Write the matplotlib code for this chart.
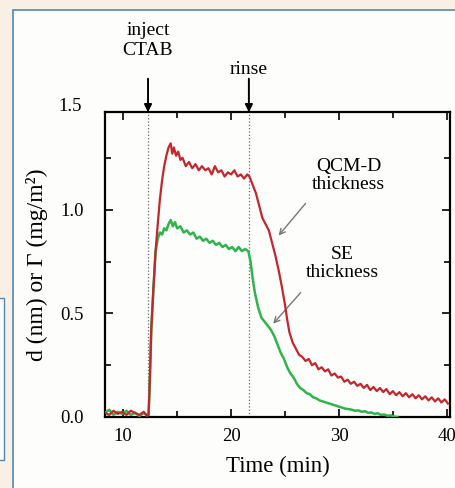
import matplotlib
matplotlib.use("Agg")
import matplotlib.pyplot as plt
from matplotlib.patches import Rectangle
from matplotlib.ticker import MultipleLocator

plt.rcParams['font.family'] = ['Liberation Serif', 'DejaVu Serif']

# QCM-D thickness (red)
qcm_t = [8.3, 8.7, 9.1, 9.5, 9.9, 10.3, 10.7, 11.1, 11.5, 11.9, 12.2, 12.35,
         12.45, 12.6, 12.8, 13.0, 13.2, 13.4, 13.6, 13.8, 14.0, 14.2, 14.4,
         14.55, 14.7, 14.9, 15.1, 15.3, 15.5, 15.8, 16.1, 16.4, 16.7, 17.0,
         17.3, 17.6, 17.9, 18.2, 18.5, 18.8, 19.1, 19.4, 19.7, 20.0, 20.3,
         20.6, 20.9, 21.2, 21.5, 21.7, 22.0, 22.3, 22.6, 22.9, 23.2, 23.5,
         23.8, 24.1, 24.4, 24.7, 25.0, 25.2, 25.4, 25.7, 26.0, 26.3, 26.6,
         26.9, 27.2, 27.5, 27.8, 28.1, 28.4, 28.7, 29.0, 29.3, 29.6, 29.9,
         30.2, 30.5, 30.8, 31.1, 31.4, 31.7, 32.0, 32.3, 32.6, 32.9, 33.2,
         33.5, 33.8, 34.1, 34.4, 34.7, 35.0, 35.3, 35.6, 35.9, 36.2, 36.5,
         36.8, 37.1, 37.4, 37.7, 38.0, 38.3, 38.6, 38.9, 39.2, 39.5, 39.8, 40.1]
qcm_d = [0.02, 0.01, 0.03, 0.015, 0.025, 0.01, 0.03, 0.02, 0.01, 0.025, 0.005, 0.01,
         0.15, 0.42, 0.62, 0.80, 0.93, 1.05, 1.14, 1.21, 1.26, 1.30, 1.32,
         1.27, 1.30, 1.26, 1.28, 1.24, 1.25, 1.21, 1.23, 1.20, 1.22, 1.19,
         1.21, 1.19, 1.20, 1.17, 1.21, 1.18, 1.19, 1.16, 1.18, 1.17, 1.19,
         1.16, 1.17, 1.15, 1.17, 1.16, 1.12, 1.08, 1.02, 0.96, 0.93, 0.90,
         0.84, 0.78, 0.71, 0.63, 0.54, 0.47, 0.41, 0.36, 0.33, 0.30, 0.29,
         0.27, 0.28, 0.25, 0.26, 0.23, 0.24, 0.22, 0.23, 0.20, 0.21, 0.19,
         0.195, 0.17, 0.18, 0.16, 0.17, 0.15, 0.16, 0.14, 0.155, 0.13, 0.145,
         0.125, 0.14, 0.12, 0.135, 0.11, 0.125, 0.105, 0.12, 0.10, 0.115, 0.095,
         0.11, 0.09, 0.105, 0.085, 0.10, 0.08, 0.095, 0.075, 0.09, 0.07, 0.085, 0.065]

# SE thickness (green)
se_t = [8.3, 8.7, 9.1, 9.5, 9.9, 10.3, 10.7, 11.1, 11.5, 11.9, 12.2, 12.35,
        12.45, 12.6, 12.8, 13.0, 13.2, 13.4, 13.6, 13.8, 14.0, 14.2, 14.4,
        14.6, 14.8, 15.0, 15.3, 15.6, 15.9, 16.2, 16.5, 16.8, 17.1, 17.4,
        17.7, 18.0, 18.3, 18.6, 18.9, 19.2, 19.5, 19.8, 20.1, 20.4, 20.7,
        21.0, 21.3, 21.6, 21.8, 22.0, 22.2, 22.5, 22.8, 23.1, 23.4, 23.7,
        24.0, 24.3, 24.6, 24.9, 25.2, 25.5, 25.8, 26.1, 26.4, 26.7, 27.0,
        27.3, 27.6, 27.9, 28.2, 28.5, 28.8, 29.1, 29.4, 29.7, 30.0, 30.3,
        30.6, 30.9, 31.2, 31.5, 31.8, 32.1, 32.4, 32.7, 33.0, 33.3, 33.6,
        33.9, 34.2, 34.5, 34.8, 35.1, 35.4]
se_d = [0.02, 0.035, 0.01, 0.025, 0.015, 0.03, 0.01, 0.02, 0.005, 0.02, 0.01, 0.01,
        0.15, 0.42, 0.62, 0.80, 0.86, 0.89, 0.88, 0.91, 0.90, 0.93, 0.95,
        0.92, 0.94, 0.91, 0.92, 0.89, 0.90, 0.88, 0.89, 0.86, 0.87, 0.85,
        0.86, 0.84, 0.85, 0.83, 0.84, 0.82, 0.83, 0.81, 0.82, 0.80, 0.82,
        0.80, 0.81, 0.80, 0.75, 0.67, 0.60, 0.53, 0.48, 0.46, 0.44, 0.42,
        0.39, 0.35, 0.31, 0.28, 0.24, 0.21, 0.19, 0.16, 0.14, 0.13, 0.115,
        0.11, 0.095, 0.09, 0.08, 0.075, 0.07, 0.065, 0.06, 0.055, 0.05, 0.045,
        0.04, 0.038, 0.035, 0.03, 0.032, 0.025, 0.028, 0.02, 0.022, 0.015, 0.018,
        0.01, 0.012, 0.006, 0.008, 0.002, 0.0]

y_ticks = [0.0, 0.5, 1.0]
top_label = 1.5
inject_t = 12.3
rinse_t = 21.65

fig = plt.figure(figsize=(4.56, 4.88), dpi=100)
fig.patch.set_facecolor('#f8f0e4')

# page panel behind the chart
fig.patches.append(Rectangle((0.0285, -0.02), 1.0, 0.9995, transform=fig.transFigure,
                             facecolor='#fdfdfc', edgecolor='#4f88b6', lw=1.2, zorder=-10))
fig.patches.append(Rectangle((-0.02, 0.057), 0.028, 0.333, transform=fig.transFigure,
                             facecolor='#fbfbf8', edgecolor='#4f88b6', lw=1.0, zorder=-10))

ax = fig.add_axes([0.230, 0.1455, 0.757, 0.6245])
ax.patch.set_alpha(0.0)

ax.plot(se_t, se_d, color='#2fb34c', lw=1.8, zorder=3)
ax.plot(qcm_t, qcm_d, color='#c1272d', lw=1.6, zorder=4)

for t in (inject_t, rinse_t):
    ax.axvline(t, color='#666666', lw=0.9, ls=':', zorder=2)

ax.set_xlim(8.3, 40.3)
ax.xaxis.set_major_locator(MultipleLocator(10))
ax.xaxis.set_minor_locator(MultipleLocator(5))
ax.yaxis.set_minor_locator(MultipleLocator(0.25))
ax.set_yticks(y_ticks)
ax.set_ylim(0, 1.47)
ax.yaxis.set_major_formatter(plt.FuncFormatter(lambda v, p: f"{v:.1f}"))
ax.tick_params(which='both', direction='in', top=True, right=True, width=1.2)
ax.tick_params(which='major', length=6)
ax.tick_params(which='minor', length=4)
ax.tick_params(axis='y', labelsize=13.5, pad=15)
ax.tick_params(axis='x', labelsize=13.5, pad=8)
for s in ax.spines.values():
    s.set_linewidth(1.6)

# the 1.5 label sits just above the frame in the original
ax.text(-0.066, top_label, f"{top_label:.1f}", transform=ax.get_yaxis_transform(),
        ha='right', va='center', fontsize=13.5)

ax.set_xlabel('Time (min)', fontsize=16.5, labelpad=8)
ax.set_ylabel('d (nm) or Γ (mg/m²)', fontsize=17, labelpad=9)

# event arrows above the axes
for t, label, ty in ((inject_t, 'inject\nCTAB', 1.235), (rinse_t, 'rinse', 1.14)):
    ax.annotate('', xy=(t, 1.0), xytext=(t, 1.11),
                xycoords=('data', 'axes fraction'), textcoords=('data', 'axes fraction'),
                arrowprops=dict(arrowstyle='-|>', color='black', lw=1.4, mutation_scale=11,
                                shrinkA=0, shrinkB=0), annotation_clip=False)
    ax.text(t, ty, label, transform=ax.get_xaxis_transform(), ha='center', va='center',
            fontsize=14, linespacing=1.2)

# curve labels with pointer arrows
ax.text(30.9, 1.165, 'QCM-D\nthickness', ha='center', va='center', fontsize=14, linespacing=1.1)
ax.annotate('', xy=(24.4, 0.875), xytext=(26.9, 1.03),
            arrowprops=dict(arrowstyle='->', color='#777777', lw=1.0, shrinkA=0, shrinkB=0))
ax.text(30.3, 0.74, 'SE\nthickness', ha='center', va='center', fontsize=14, linespacing=1.1)
ax.annotate('', xy=(23.9, 0.45), xytext=(26.45, 0.60),
            arrowprops=dict(arrowstyle='->', color='#777777', lw=1.0, shrinkA=0, shrinkB=0))

fig.savefig('out.png', dpi=100, facecolor=fig.get_facecolor())
